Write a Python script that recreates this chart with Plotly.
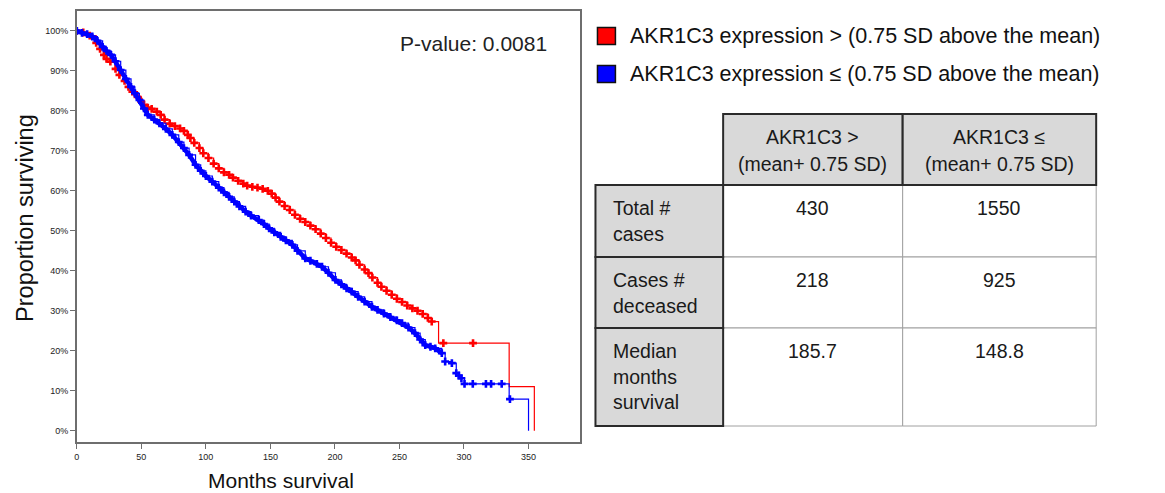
import plotly.graph_objects as go

# ---------------- data ----------------
# Kaplan-Meier step curves: months, % surviving
high_t = [0, 5, 10, 15, 18, 21, 23, 26, 30, 33, 37, 40, 43, 47, 50, 52, 55, 58, 62, 65,
          68, 72, 76, 80, 83, 86, 88, 91, 95, 98, 102, 106, 110, 114, 118, 121, 125, 129,
          132, 136, 140, 144, 148, 151, 154, 157, 161, 165, 169, 173, 177, 181, 185, 189,
          193, 197, 201, 205, 209, 213, 216, 219, 223, 226, 229, 233, 236, 240, 244, 248,
          252, 256, 260, 264, 268, 272, 275, 280.3, 335, 354.5]
high_s = [100, 99.6, 98.8, 97, 95.5, 94, 93, 92.3, 90.5, 89, 87.5, 86, 84.8, 83.5, 82.3,
          81.5, 80.8, 80.5, 79.8, 79, 77.8, 76.8, 76.2, 75.6, 75, 74, 73.2, 72, 70.7, 69.4,
          68.2, 66.8, 65.6, 64.6, 64, 63.3, 62.5, 61.8, 61.3, 61, 60.8, 60.5, 60, 59.3, 58.3,
          57.3, 56.2, 55.2, 54, 53, 52.2, 51.3, 50.4, 49.3, 48.2, 47, 46, 45.2, 44.3, 43.3,
          42.6, 41.5, 40.3, 39.4, 38.3, 37, 36, 35, 34, 33, 32.2, 31.3, 30.6, 30, 29.2, 28.2,
          27.3, 21.9, 11, 0]
low_t = [0, 4, 8, 12, 16, 20, 23, 26.5, 30, 34, 38, 42, 45, 48.5, 52, 55, 60, 64, 69, 74,
         79, 83, 87, 92, 96, 100, 105, 110, 114, 118, 122, 126, 130.8, 135, 141, 145, 149,
         153, 158, 162, 167, 171, 177, 181, 186, 190, 195, 200.4, 205, 209, 213, 218, 223,
         228.7, 233, 238, 243, 248, 252, 257, 262, 266, 270, 274, 277.7, 282.8, 285.4,
         290.6, 294, 296, 298, 300.4, 335, 350]
low_s = [100, 99.5, 99.2, 98.6, 97.5, 96, 95, 94, 92.4, 90.2, 88, 86, 84.4, 82.7, 80.6, 79,
         77.8, 76.9, 75.5, 74, 72.2, 70.7, 69, 66.5, 65, 63.7, 62.3, 60.8, 59.6, 58.5, 57.3,
         56.1, 54.8, 53.8, 52.7, 51.7, 50.6, 49.6, 48.5, 47.6, 46.5, 45, 43.1, 42.5, 41.7,
         41, 39.5, 37.7, 36.6, 35.6, 34.8, 33.5, 32.3, 31, 30.2, 29.3, 28.4, 27.6, 26.9,
         25.8, 24.4, 22.8, 21.4, 21, 20.6, 19.4, 17.3, 16.9, 14.4, 13.8, 13.1, 11.7, 7.9, 0]
# censored cases (tick marks)
high_cens_t = [t for t in high_t if t <= 275] + [284, 307]
high_cens_s = high_s[:len(high_cens_t) - 2] + [21.9, 21.9]
low_cens_t = [t for t in low_t if t <= 300.4] + [306.8, 317, 321, 329.2, 335.6]
low_cens_s = low_s[:len(low_cens_t) - 5] + [11.7, 11.7, 11.7, 11.7, 7.9]

x_ticks = [0, 50, 100, 150, 200, 250, 300, 350]
y_ticks = [0, 10, 20, 30, 40, 50, 60, 70, 80, 90, 100]

legend_labels = ["AKR1C3 expression > (0.75 SD above the mean)",
                 "AKR1C3 expression \u2264 (0.75 SD above the mean)"]
p_value_text = "P-value: 0.0081"

table_cols = ["AKR1C3 ><br>(mean+ 0.75 SD)", "AKR1C3 \u2264<br>(mean+ 0.75 SD)"]
table_rows = ["Total #<br>cases", "Cases #<br>deceased", "Median<br>months<br>survival"]
table_high = ["430", "218", "185.7"]
table_low = ["1550", "925", "148.8"]

# ---------------- styling / layout ----------------
W, H = 1165, 493
FONT = "Liberation Sans, Arial, sans-serif"
RED, BLUE = "#ff0000", "#0000ff"


def px(x):
    return x / W


def py(y):
    return 1 - y / H


fig = go.Figure()
# red group: thin step line + tick marks
fig.add_trace(go.Scatter(x=high_t, y=high_s, mode="lines",
                         line=dict(color=RED, width=1.2, shape="hv"),
                         showlegend=False, hoverinfo="skip"))
fig.add_trace(go.Scatter(x=high_cens_t, y=high_cens_s, mode="markers",
                         marker=dict(symbol="cross", size=6.5, color=RED, line=dict(width=0)),
                         showlegend=False, hoverinfo="skip"))
# blue group: step line, dense tick marks merge into a thick band
fig.add_trace(go.Scatter(x=low_t, y=low_s, mode="lines",
                         line=dict(color=BLUE, width=1.2, shape="hv"),
                         showlegend=False, hoverinfo="skip"))
n_dense = len([t for t in low_t if t <= 282.8])
fig.add_trace(go.Scatter(x=low_t[:n_dense], y=low_s[:n_dense], mode="lines",
                         line=dict(color=BLUE, width=4.5, shape="linear"),
                         showlegend=False, hoverinfo="skip"))
fig.add_trace(go.Scatter(x=low_cens_t, y=low_cens_s, mode="markers",
                         marker=dict(symbol="cross", size=6.5, color=BLUE, line=dict(width=0)),
                         showlegend=False, hoverinfo="skip"))

axis_common = dict(showgrid=False, zeroline=False, showline=True, linecolor="#6e6e6e",
                   linewidth=1.5, mirror=True, ticks="outside", ticklen=5, tickwidth=1.2,
                   tickcolor="#6e6e6e", tickfont=dict(family=FONT, size=9, color="#222222"))
fig.update_layout(
    width=W, height=H, margin=dict(l=0, r=0, t=0, b=0),
    paper_bgcolor="white", plot_bgcolor="white",
    font=dict(family=FONT, color="#111111"),
    xaxis=dict(domain=[px(74), px(578)], range=[0, 389.5], tickvals=x_ticks, **axis_common),
    yaxis=dict(domain=[py(442), py(10.5)], range=[-2.83, 105.1], tickvals=y_ticks,
               ticktext=[f"{v}%" for v in y_ticks], **axis_common),
)

ann = []
shapes = []
ann.append(dict(text="Proportion surviving", x=px(22), y=py(218), xref="paper", yref="paper",
                xanchor="center", yanchor="middle",
                textangle=-90, showarrow=False, font=dict(size=23.5, family=FONT, color="#111")))
ann.append(dict(text="Months survival", x=px(279), y=py(480), xref="paper", yref="paper",
                xanchor="center", yanchor="middle",
                showarrow=False, font=dict(size=21, family=FONT, color="#111")))
ann.append(dict(text=p_value_text, x=px(472), y=py(44), xref="paper", yref="paper",
                xanchor="center", yanchor="middle",
                showarrow=False, font=dict(size=21, family=FONT, color="#222")))

# legend
for i, (lab, col) in enumerate(zip(legend_labels, [RED, BLUE])):
    yc = 36 + i * 38
    shapes.append(dict(type="rect", xref="paper", yref="paper", x0=px(596), x1=px(614),
                       y0=py(yc - 8.5), y1=py(yc + 8.5), fillcolor=col,
                       line=dict(color="#111", width=1.5)))
    ann.append(dict(text=lab, x=px(627), y=py(yc), xref="paper", yref="paper", xanchor="left",
                    yanchor="middle",
                    showarrow=False, font=dict(size=21.5, family=FONT, color="#111")))

# table
col_x = [594, 722, 902, 1096]
row_y = [114, 185, 257, 328, 426]
GRAY = "#d9d9d9"
DARK = "#2a2a2a"
LIGHT = "#a0a0a0"
TFONT = dict(size=19.5, family=FONT, color="#1a1a1a")
LINE_H = 25.5
# data cells first (light borders)
for r in range(3):
    for c in range(2):
        shapes.append(dict(type="rect", xref="paper", yref="paper",
                           x0=px(col_x[c + 1]), x1=px(col_x[c + 2]),
                           y0=py(row_y[r + 1]), y1=py(row_y[r + 2]),
                           fillcolor="white", line=dict(color=LIGHT, width=1)))
# header cells
for c in range(2):
    shapes.append(dict(type="rect", xref="paper", yref="paper",
                       x0=px(col_x[c + 1]), x1=px(col_x[c + 2]),
                       y0=py(row_y[0]), y1=py(row_y[1]),
                       fillcolor=GRAY, line=dict(color=DARK, width=2)))
    for k, ln in enumerate(table_cols[c].split("<br>")):
        ann.append(dict(text=ln, x=px((col_x[c + 1] + col_x[c + 2]) / 2), y=py(137 + k * 26.5),
                        xanchor="center", yanchor="middle",
                        xref="paper", yref="paper", showarrow=False, font=TFONT))
# row header cells
for r in range(3):
    shapes.append(dict(type="rect", xref="paper", yref="paper",
                       x0=px(col_x[0]), x1=px(col_x[1]),
                       y0=py(row_y[r + 1]), y1=py(row_y[r + 2]),
                       fillcolor=GRAY, line=dict(color=DARK, width=2)))
    for k, ln in enumerate(table_rows[r].split("<br>")):
        ann.append(dict(text=ln, x=px(610), y=py(row_y[r + 1] + 23 + k * LINE_H),
                        xanchor="left", yanchor="middle",
                        xref="paper", yref="paper", showarrow=False, font=TFONT))
    for c, vals in enumerate([table_high, table_low]):
        ann.append(dict(text=vals[r], x=px((col_x[c + 1] + col_x[c + 2]) / 2),
                        y=py(row_y[r + 1] + 23), xanchor="center", yanchor="middle",
                        xref="paper", yref="paper",
                        showarrow=False, font=TFONT))

fig.update_layout(annotations=ann, shapes=shapes)
fig.write_html("out.html", config={"displayModeBar": False},
               post_script="document.body.style.margin='0';document.body.style.overflow='hidden';")
